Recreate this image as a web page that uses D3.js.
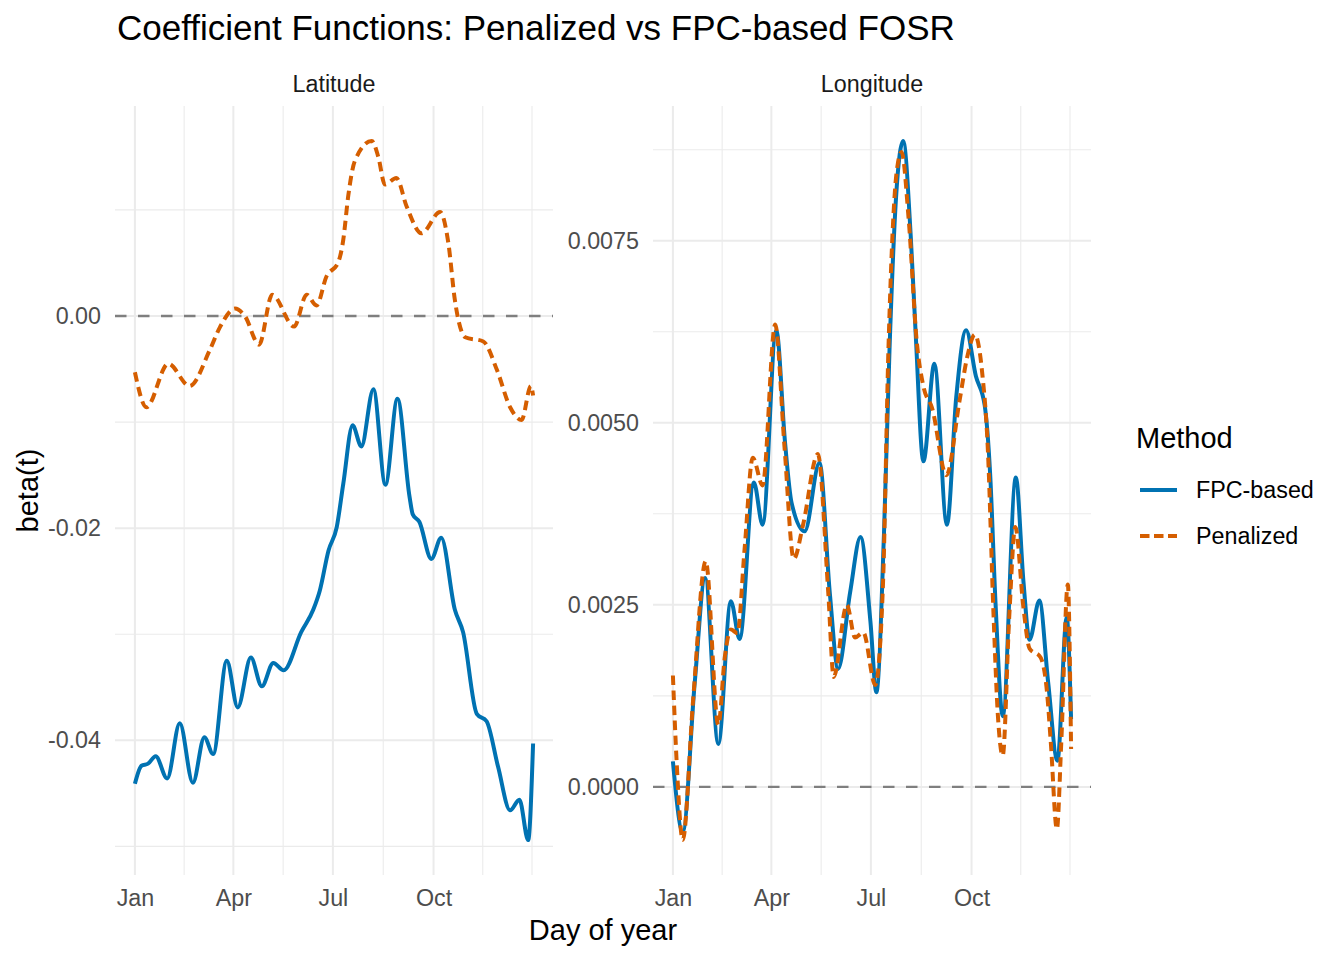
<!DOCTYPE html>
<html>
<head>
<meta charset="utf-8">
<script src="https://cdn.jsdelivr.net/npm/d3@7"></script>
<style>
  body { margin: 0; background: #fff; }
  text { font-family: "Liberation Sans", Arial, Helvetica, sans-serif; }
</style>
</head>
<body>
<div id="fosr-chart"></div>
<script>
// x axis: day of year, breaks shown as month names
const monthTicks = [1, 91, 182, 274]
const monthLabels = ["Jan", "Apr", "Jul", "Oct"]
const monthMinor = [46, 136.5, 228, 319, 364]

const methods = ["FPC-based", "Penalized"]

// Latitude coefficient, [day, beta]
const latFpc = [[1,-0.0441],[7,-0.0424],[13,-0.0422],[20,-0.0415],[30.5,-0.0436],[42,-0.0384],[54,-0.0440],
  [64.5,-0.0397],[72.5,-0.0413],[85,-0.0325],[95,-0.0369],[107,-0.0322],[117,-0.0349],[127.5,-0.0327],
  [137,-0.0334],[153,-0.0298],[164,-0.0277],[170,-0.0259],[178,-0.0221],[185.5,-0.0199],[191.5,-0.0158],
  [200,-0.0103],[208,-0.0123],[219,-0.0069],[230,-0.0159],[241,-0.0078],[252,-0.0170],[255,-0.0187],
  [261,-0.0194],[272,-0.0229],[281,-0.0209],[293.5,-0.0277],[301,-0.0298],[313.5,-0.0375],[322.5,-0.0382],
  [333,-0.0425],[344,-0.0466],[352.5,-0.0456],[360.5,-0.0494],[365,-0.0403]]
const latPen = [[1,-0.0053],[11.5,-0.0086],[31.5,-0.0045],[51,-0.0066],[69.5,-0.0032],[79,-0.0010],
  [92.5,0.0007],[101.5,0.0000],[114.5,-0.0027],[126.5,0.0020],[146.5,-0.0010],[158,0.0020],[167,0.0010],
  [176,0.0037],[187,0.0051],[191.5,0.0072],[196,0.0113],[202,0.0146],[217.5,0.0165],[223.5,0.0150],
  [229.5,0.0124],[240,0.0130],[249.5,0.0103],[263,0.0078],[280,0.0098],[287.5,0.0069],[293.5,0.0015],
  [303,-0.0020],[319.5,-0.0024],[332,-0.0051],[344,-0.0086],[354.5,-0.0098],[363,-0.0066],[365,-0.0075]]

// Longitude coefficient, [day, beta]
const lonFpc = [[1,0.00035],[10,-0.00062],[21,0.00144],[30.5,0.00287],[42.5,0.00059],[54,0.00255],
  [62,0.00203],[75,0.00418],[83,0.00360],[95.5,0.00627],[103.5,0.00473],[109.5,0.0039],[121.5,0.00351],
  [135,0.00445],[144.5,0.00265],[152,0.00162],[163,0.00267],[172.5,0.00343],[181.5,0.00228],[187,0.00130],
  [194,0.0035],[199,0.0060],[205,0.0081],[211.5,0.00887],[218.5,0.00754],[223,0.0062],[230,0.00447],
  [240,0.00581],[251.5,0.0036],[260,0.00535],[269,0.00627],[278,0.00564],[286,0.00524],[291,0.0043],
  [296,0.0025],[302.5,0.00097],[314.5,0.00425],[321.5,0.00281],[327,0.00202],[336,0.00256],[344,0.00144],
  [352.5,0.00036],[361,0.00233],[365,0.00093]]
const lonPen = [[1,0.00153],[4.5,0.00032],[10,-0.00073],[19.5,0.0012],[31,0.0031],[42.5,0.00085],
  [48.5,0.00179],[54,0.00216],[60,0.00211],[66.5,0.00326],[74,0.00452],[83,0.00414],[94.5,0.00635],
  [103,0.00467],[111.5,0.00313],[120,0.0036],[133.5,0.00457],[143,0.00267],[148,0.00151],[160,0.0025],
  [167.5,0.00205],[175,0.00212],[186,0.0014],[193,0.00277],[198,0.0060],[205.5,0.00844],[210,0.00872],
  [216.5,0.0078],[224,0.0061],[230,0.0055],[238,0.0052],[251,0.00428],[263,0.0053],[270,0.0059],
  [277,0.00621],[283.5,0.00572],[289,0.0046],[294,0.0024],[298,0.0010],[302.5,0.00043],[308.5,0.00235],
  [314,0.00357],[321.5,0.00245],[327,0.0019],[337,0.00178],[343,0.0013],[346.5,0.0006],[352,-0.00058],
  [356,0.0006],[362,0.00278],[365,0.00052]]

const latTicks = [-0.04, -0.02, 0]
const latTickLabels = ["-0.04", "-0.02", "0.00"]
const latMinor = [-0.05, -0.03, -0.01, 0.01]
const lonTicks = [0, 0.0025, 0.005, 0.0075]
const lonTickLabels = ["0.0000", "0.0025", "0.0050", "0.0075"]
const lonMinor = [0.00125, 0.00375, 0.00625, 0.00875]

const colors = {"FPC-based": "#0072B2", "Penalized": "#D55E00"}

const width = 1344
const height = 960
const panelTop = 106
const panelBottom = 875

const svg = d3.select("#fosr-chart")
  .append("svg")
  .attr("width", width)
  .attr("height", height)
  .style("display", "block")

svg.append("rect").attr("width", width).attr("height", height).attr("fill", "#fff")

// expand a numeric extent by 5% on both sides, like ggplot
function expand(ext) {
  const pad = (ext[1] - ext[0]) * 0.05
  return [ext[0] - pad, ext[1] + pad]
}

function drawPanel(x0, x1, title, fpc, pen, ticks, tickLabels, minor) {
  const g = svg.append("g")

  const allDays = fpc.concat(pen).map(d => d[0])
  const allVals = fpc.concat(pen).map(d => d[1])

  const x = d3.scaleLinear().domain(expand(d3.extent(allDays))).range([x0, x1])
  const y = d3.scaleLinear().domain(expand(d3.extent(allVals))).range([panelBottom, panelTop])

  // minor grid
  g.selectAll(null).data(monthMinor).enter().append("line")
    .attr("x1", d => x(d)).attr("x2", d => x(d))
    .attr("y1", panelTop).attr("y2", panelBottom)
    .attr("stroke", "#EBEBEB").attr("stroke-width", 1.1)
  g.selectAll(null).data(minor).enter().append("line")
    .attr("x1", x0).attr("x2", x1)
    .attr("y1", d => y(d)).attr("y2", d => y(d))
    .attr("stroke", "#EBEBEB").attr("stroke-width", 1.1)

  // major grid
  g.selectAll(null).data(monthTicks).enter().append("line")
    .attr("x1", d => x(d)).attr("x2", d => x(d))
    .attr("y1", panelTop).attr("y2", panelBottom)
    .attr("stroke", "#EBEBEB").attr("stroke-width", 2)
  g.selectAll(null).data(ticks).enter().append("line")
    .attr("x1", x0).attr("x2", x1)
    .attr("y1", d => y(d)).attr("y2", d => y(d))
    .attr("stroke", "#EBEBEB").attr("stroke-width", 2)

  // axes, tick marks hidden like theme_minimal
  const yAxis = g.append("g")
    .attr("transform", "translate(" + x0 + ",0)")
    .call(d3.axisLeft(y).tickValues(ticks).tickSize(0).tickPadding(14)
      .tickFormat((d, i) => tickLabels[i]))
  const xAxis = g.append("g")
    .attr("transform", "translate(0," + panelBottom + ")")
    .call(d3.axisBottom(x).tickValues(monthTicks).tickSize(0).tickPadding(14)
      .tickFormat((d, i) => monthLabels[i]))
  ;[xAxis, yAxis].forEach(a => {
    a.select(".domain").remove()
    a.selectAll("text").attr("fill", "#4D4D4D").style("font-size", "23.3px")
      .style("font-family", "'Liberation Sans', Arial, sans-serif")
  })
  xAxis.selectAll("text").attr("dy", "0.71em")

  // zero reference
  g.append("line")
    .attr("x1", x0).attr("x2", x1)
    .attr("y1", y(0)).attr("y2", y(0))
    .attr("stroke", "#7F7F7F").attr("stroke-width", 2.3)
    .attr("stroke-dasharray", "11.5,11.5")

  const line = d3.line()
    .x(d => x(d[0]))
    .y(d => y(d[1]))
    .curve(d3.curveMonotoneX)

  g.append("path").datum(fpc)
    .attr("d", line).attr("fill", "none")
    .attr("stroke", colors["FPC-based"]).attr("stroke-width", 4)
  g.append("path").datum(pen)
    .attr("d", line).attr("fill", "none")
    .attr("stroke", colors["Penalized"]).attr("stroke-width", 4)
    .attr("stroke-dasharray", "9.5,5.5")

  // strip label
  g.append("text")
    .attr("x", (x0 + x1) / 2).attr("y", 92)
    .attr("text-anchor", "middle")
    .attr("fill", "#1A1A1A").style("font-size", "23.3px")
    .text(title)
}

drawPanel(115, 553, "Latitude", latFpc, latPen, latTicks, latTickLabels, latMinor)
drawPanel(653, 1091, "Longitude", lonFpc, lonPen, lonTicks, lonTickLabels, lonMinor)

// titles
svg.append("text")
  .attr("x", 117).attr("y", 40)
  .style("font-size", "35px").attr("fill", "#000")
  .text("Coefficient Functions: Penalized vs FPC-based FOSR")

svg.append("text")
  .attr("x", 603).attr("y", 940)
  .attr("text-anchor", "middle")
  .style("font-size", "29px").attr("fill", "#000")
  .text("Day of year")

svg.append("text")
  .attr("transform", "translate(38," + (panelTop + panelBottom) / 2 + ") rotate(-90)")
  .attr("text-anchor", "middle")
  .style("font-size", "29px").attr("fill", "#000")
  .text("beta(t)")

// legend
const legend = svg.append("g").attr("transform", "translate(1136,0)")
legend.append("text")
  .attr("x", 0).attr("y", 448)
  .style("font-size", "29px").attr("fill", "#000")
  .text("Method")

const key = legend.selectAll(null).data(methods).enter().append("g")
  .attr("transform", (d, i) => "translate(0," + (490 + i * 46) + ")")
key.append("line")
  .attr("x1", 4).attr("x2", 41)
  .attr("stroke", d => colors[d]).attr("stroke-width", 4)
  .attr("stroke-dasharray", d => d === "Penalized" ? "9.5,4.5" : null)
key.append("text")
  .attr("x", 60).attr("y", 8.4)
  .style("font-size", "23.3px").attr("fill", "#000")
  .text(d => d)
</script>
</body>
</html>
